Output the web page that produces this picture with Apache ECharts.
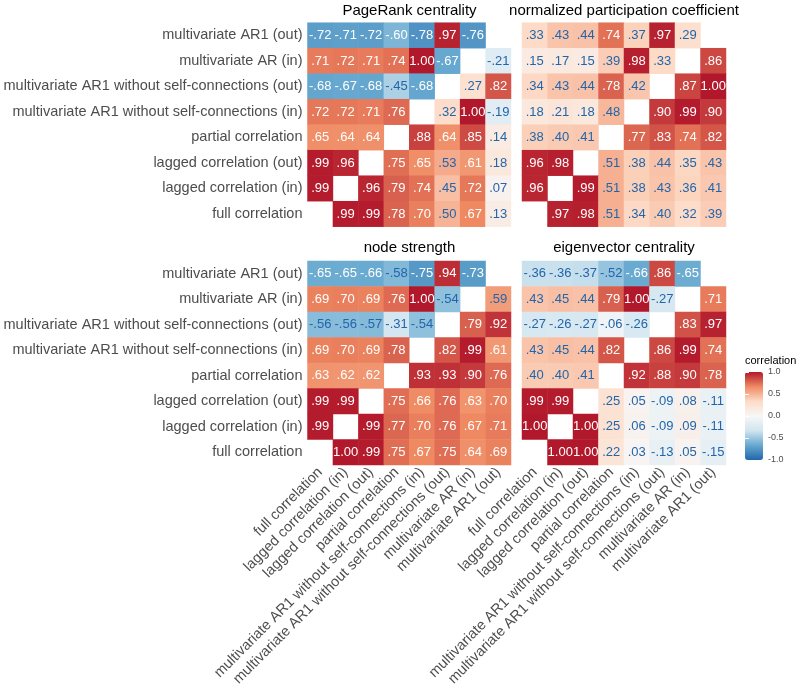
<!DOCTYPE html>
<html>
<head>
<meta charset="utf-8">
<script src="https://cdn.jsdelivr.net/npm/echarts@6/dist/echarts.min.js"></script>
<style>
html,body{margin:0;padding:0;background:#fff;}
#chart{width:800px;height:694px;}
</style>
</head>
<body>
<div id="chart"></div>
<script>
// Category order along x (left to right) and y (bottom to top)
const categories = [
  'full correlation',
  'lagged correlation (in)',
  'lagged correlation (out)',
  'partial correlation',
  'multivariate AR1 without self-connections (in)',
  'multivariate AR1 without self-connections (out)',
  'multivariate AR (in)',
  'multivariate AR1 (out)'
];

const panelTitles = ['PageRank centrality', 'normalized participation coefficient', 'node strength', 'eigenvector centrality'];

// Matrices: rows listed top to bottom (first row = 'multivariate AR1 (out)'), columns follow categories
const pagerank = [
  [-.72, -.71, -.72, -.60, -.78, .97, -.76, null],
  [.71, .72, .71, .74, 1.00, -.67, null, -.21],
  [-.68, -.67, -.68, -.45, -.68, null, .27, .82],
  [.72, .72, .71, .76, null, .32, 1.00, -.19],
  [.65, .64, .64, null, .88, .64, .85, .14],
  [.99, .96, null, .75, .65, .53, .61, .18],
  [.99, null, .96, .79, .74, .45, .72, .07],
  [null, .99, .99, .78, .70, .50, .67, .13]
];
const participation = [
  [.33, .43, .44, .74, .37, .97, .29, null],
  [.15, .17, .15, .39, .98, .33, null, .86],
  [.34, .43, .44, .78, .42, null, .87, 1.00],
  [.18, .21, .18, .48, null, .90, .99, .90],
  [.38, .40, .41, null, .77, .83, .74, .82],
  [.96, .98, null, .51, .38, .44, .35, .43],
  [.96, null, .99, .51, .38, .43, .36, .41],
  [null, .97, .98, .51, .34, .40, .32, .39]
];
const strength = [
  [-.65, -.65, -.66, -.58, -.75, .94, -.73, null],
  [.69, .70, .69, .76, 1.00, -.54, null, .59],
  [-.56, -.56, -.57, -.31, -.54, null, .79, .92],
  [.69, .70, .69, .78, null, .82, .99, .61],
  [.63, .62, .62, null, .93, .93, .90, .76],
  [.99, .99, null, .75, .66, .76, .63, .70],
  [.99, null, .99, .77, .70, .76, .67, .71],
  [null, 1.00, .99, .75, .67, .75, .64, .69]
];
const eigenvector = [
  [-.36, -.36, -.37, -.52, -.66, .86, -.65, null],
  [.43, .45, .44, .79, 1.00, -.27, null, .71],
  [-.27, -.26, -.27, -.06, -.26, null, .83, .97],
  [.43, .45, .44, .82, null, .86, .99, .74],
  [.40, .40, .41, null, .92, .88, .90, .78],
  [.99, .99, null, .25, .05, -.09, .08, -.11],
  [1.00, null, 1.00, .25, .06, -.09, .09, -.11],
  [null, 1.00, 1.00, .22, .03, -.13, .05, -.15]
];

const legendTicks = [-1, -0.5, 0, 0.5, 1];

const matrices = [pagerank, participation, strength, eigenvector];
const FONT = "'Liberation Sans', Helvetica, Arial, sans-serif";
const BLUE_TEXT = '#2166ac';

function fmt(v) {
  let s = Math.abs(v).toFixed(2);
  if (s.charAt(0) === '0') s = s.slice(1);
  return (v < 0 ? '-' : '') + s;
}

function buildData(m) {
  const out = [];
  const n = categories.length;
  for (let r = 0; r < n; r++) {
    for (let c = 0; c < n; c++) {
      const v = m[r][c];
      if (v === null) continue;
      out.push({
        value: [c, n - 1 - r, v],
        label: { color: Math.abs(v) >= 0.6 ? '#ffffff' : BLUE_TEXT }
      });
    }
  }
  return out;
}

const grids = [
  { left: 307.5, top: 22.7, width: 203.5, height: 204 },
  { left: 522, top: 22.7, width: 204, height: 204 },
  { left: 307.5, top: 261, width: 203.5, height: 204 },
  { left: 522, top: 261, width: 204, height: 204 },
  { left: 745, top: 372, width: 18, height: 88 }
];

const xAxes = [], yAxes = [], series = [];
for (let i = 0; i < 4; i++) {
  xAxes.push({
    type: 'category', gridIndex: i, data: categories,
    axisLine: { show: false }, axisTick: { show: false }, splitLine: { show: false },
    axisLabel: { show: i >= 2, rotate: 45, margin: 5, fontSize: 14.5, color: '#4d4d4d', fontFamily: FONT, interval: 0 }
  });
  yAxes.push({
    type: 'category', gridIndex: i, data: categories,
    axisLine: { show: false }, axisTick: { show: false }, splitLine: { show: false },
    axisLabel: { show: i % 2 === 0, margin: 5, fontSize: 14.5, color: '#4d4d4d', fontFamily: FONT, interval: 0 }
  });
  series.push({
    type: 'heatmap', xAxisIndex: i, yAxisIndex: i,
    data: buildData(matrices[i]),
    label: { show: true, fontSize: 13, fontFamily: FONT, formatter: p => fmt(p.value[2]) },
    itemStyle: { borderWidth: 0 },
    emphasis: { disabled: true }
  });
}
// legend axis (grid 4)
xAxes.push({ type: 'value', gridIndex: 4, show: false, min: 0, max: 1 });
yAxes.push({
  type: 'value', gridIndex: 4, min: -1, max: 1, interval: 0.5, position: 'right', z: 10,
  axisLine: { show: false }, splitLine: { show: false },
  axisTick: { show: true, inside: true, length: 4, lineStyle: { color: '#ffffff', width: 1 } },
  axisLabel: { margin: 5, fontSize: 9, color: '#4d4d4d', fontFamily: FONT, formatter: v => v.toFixed(1) }
});
yAxes.push({
  type: 'value', gridIndex: 4, min: -1, max: 1, interval: 0.5, position: 'left', z: 10,
  axisLine: { show: false }, splitLine: { show: false },
  axisTick: { show: true, inside: true, length: 4, lineStyle: { color: '#ffffff', width: 1 } },
  axisLabel: { show: false }
});

const titles = [
  { text: panelTitles[0], left: 409.5, top: 3 },
  { text: panelTitles[1], left: 624, top: 3 },
  { text: panelTitles[2], left: 409.5, top: 240 },
  { text: panelTitles[3], left: 624, top: 240 }
].map(t => Object.assign(t, {
  textAlign: 'center', padding: 0,
  textStyle: { fontSize: 15, fontWeight: 'normal', color: '#000', fontFamily: FONT }
}));
titles.push({
  text: 'correlation', left: 745, top: 355, padding: 0,
  textStyle: { fontSize: 11, fontWeight: 'normal', color: '#000', fontFamily: FONT }
});

const chart = echarts.init(document.getElementById('chart'), null, { renderer: 'canvas' });
chart.setOption({
  backgroundColor: '#ffffff',
  animation: false,
  title: titles,
  grid: grids,
  xAxis: xAxes,
  yAxis: yAxes,
  visualMap: {
    type: 'continuous', min: legendTicks[0], max: legendTicks[legendTicks.length - 1],
    dimension: 2, seriesIndex: [0, 1, 2, 3],
    calculable: false, text: null, padding: 0,
    left: 745, top: 372, itemWidth: 18, itemHeight: 88,
    inRange: { color: ['#2166ac', '#67a9cf', '#d1e5f0', '#f7f7f7', '#fddbc7', '#ef8a62', '#b2182b'] }
  },
  series: series
});
</script>
</body>
</html>
